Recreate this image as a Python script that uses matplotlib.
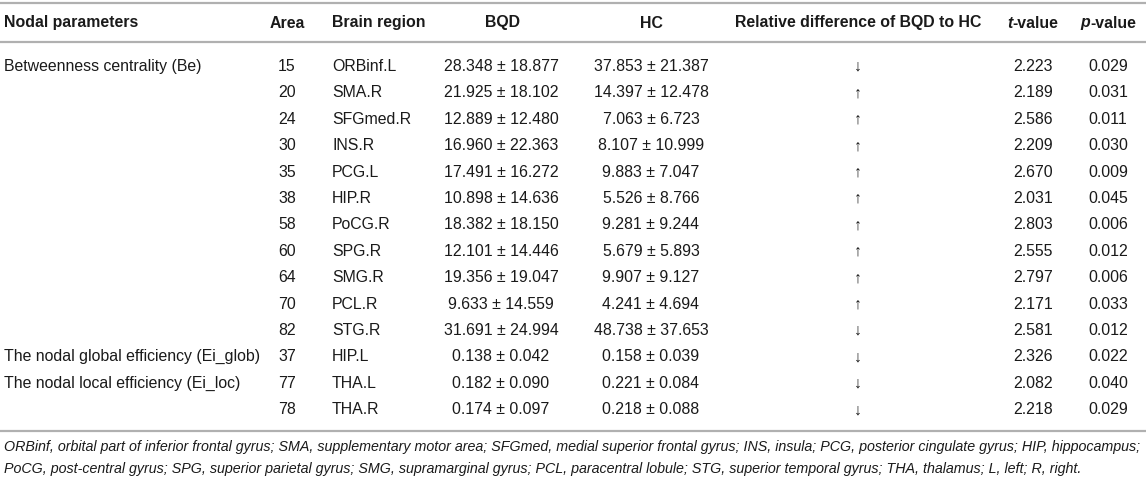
import matplotlib
matplotlib.use("Agg")
import matplotlib.pyplot as plt

FONT = ['Liberation Sans', 'DejaVu Sans']

headers = ["Nodal parameters", "Area", "Brain region", "BQD", "HC",
           "Relative difference of BQD to HC"]
params = ["Betweenness centrality (Be)", "", "", "", "", "", "", "", "", "", "",
          "The nodal global efficiency (Ei_glob)", "The nodal local efficiency (Ei_loc)", ""]
areas = ["15", "20", "24", "30", "35", "38", "58", "60", "64", "70", "82", "37", "77", "78"]
regions = ["ORBinf.L", "SMA.R", "SFGmed.R", "INS.R", "PCG.L", "HIP.R", "PoCG.R", "SPG.R",
           "SMG.R", "PCL.R", "STG.R", "HIP.L", "THA.L", "THA.R"]
bqd = ["28.348 ± 18.877", "21.925 ± 18.102", "12.889 ± 12.480", "16.960 ± 22.363",
       "17.491 ± 16.272", "10.898 ± 14.636", "18.382 ± 18.150", "12.101 ± 14.446",
       "19.356 ± 19.047", "9.633 ± 14.559", "31.691 ± 24.994", "0.138 ± 0.042",
       "0.182 ± 0.090", "0.174 ± 0.097"]
hc = ["37.853 ± 21.387", "14.397 ± 12.478", "7.063 ± 6.723", "8.107 ± 10.999",
      "9.883 ± 7.047", "5.526 ± 8.766", "9.281 ± 9.244", "5.679 ± 5.893",
      "9.907 ± 9.127", "4.241 ± 4.694", "48.738 ± 37.653", "0.158 ± 0.039",
      "0.221 ± 0.084", "0.218 ± 0.088"]
reldiff = ["↓", "↑", "↑", "↑", "↑", "↑", "↑", "↑", "↑", "↑", "↓", "↓", "↓", "↓"]
tvals = ["2.223", "2.189", "2.586", "2.209", "2.670", "2.031", "2.803", "2.555",
         "2.797", "2.171", "2.581", "2.326", "2.082", "2.218"]
pvals = ["0.029", "0.031", "0.011", "0.030", "0.009", "0.045", "0.006", "0.012",
         "0.006", "0.033", "0.012", "0.022", "0.040", "0.029"]
footnote = [
    "ORBinf, orbital part of inferior frontal gyrus; SMA, supplementary motor area; SFGmed, medial superior frontal gyrus; INS, insula; PCG, posterior cingulate gyrus; HIP, hippocampus;",
    "PoCG, post-central gyrus; SPG, superior parietal gyrus; SMG, supramarginal gyrus; PCL, paracentral lobule; STG, superior temporal gyrus; THA, thalamus; L, left; R, right.",
]

W, H = 1146, 481
fig = plt.figure(figsize=(W / 100, H / 100), dpi=100)
ax = fig.add_axes([0, 0, 1, 1])
ax.set_xlim(0, W)
ax.set_ylim(H, 0)
ax.axis('off')

FS = 11.4
TXT = '#1a1a1a'
LINE = '#b0b0b0'

# column anchors (pixels)
X_PARAM, X_AREA, X_REGION, X_BQD, X_HC, X_REL, X_T, X_P = 4, 287, 332, 501, 651, 858, 1033, 1108

# rules
for y in (4, 43, 432):
    ax.plot([0, W], [y, y], color=LINE, lw=1.6, solid_capstyle='butt')

# header
hy = 23
kw = dict(va='center', fontsize=FS, fontweight='bold', color=TXT, family=FONT)
ax.text(X_PARAM, hy, headers[0], ha='left', **kw)
ax.text(X_AREA, hy, headers[1], ha='center', **kw)
ax.text(X_REGION, hy, headers[2], ha='left', **kw)
ax.text(X_BQD + 1, hy, headers[3], ha='center', **kw)
ax.text(X_HC, hy, headers[4], ha='center', **kw)
ax.text(X_REL, hy, headers[5], ha='center', **kw)

fig.canvas.draw()
r = fig.canvas.get_renderer()
for xc, letter in ((X_T, 't'), (X_P, 'p')):
    t1 = ax.text(0, hy, letter, ha='left', va='center', fontsize=FS, fontweight='bold',
                 fontstyle='italic', color=TXT, family=FONT)
    t2 = ax.text(0, hy, "-value", ha='left', **kw)
    w1 = t1.get_window_extent(renderer=r).width
    w2 = t2.get_window_extent(renderer=r).width
    x0 = xc - (w1 + w2) / 2
    t1.set_x(x0)
    t2.set_x(x0 + w1)

# rows
y0, dy = 66.5, 26.4
rkw = dict(va='center', fontsize=FS, color=TXT, family=FONT)
for i in range(len(areas)):
    y = y0 + i * dy
    if params[i]:
        ax.text(X_PARAM, y, params[i], ha='left', **rkw)
    ax.text(X_AREA, y, areas[i], ha='center', **rkw)
    ax.text(X_REGION, y, regions[i], ha='left', **rkw)
    ax.text(X_BQD, y, bqd[i], ha='center', **rkw)
    ax.text(X_HC, y, hc[i], ha='center', **rkw)
    ax.text(X_REL, y, reldiff[i], ha='center', **rkw)
    ax.text(X_T, y, tvals[i], ha='center', **rkw)
    ax.text(X_P, y, pvals[i], ha='center', **rkw)

# footnote
for j, line in enumerate(footnote):
    ax.text(4, 447 + j * 22, line, ha='left', va='center', fontsize=10.3,
            fontstyle='italic', color=TXT, family=FONT)

fig.savefig('out.png', dpi=100)
